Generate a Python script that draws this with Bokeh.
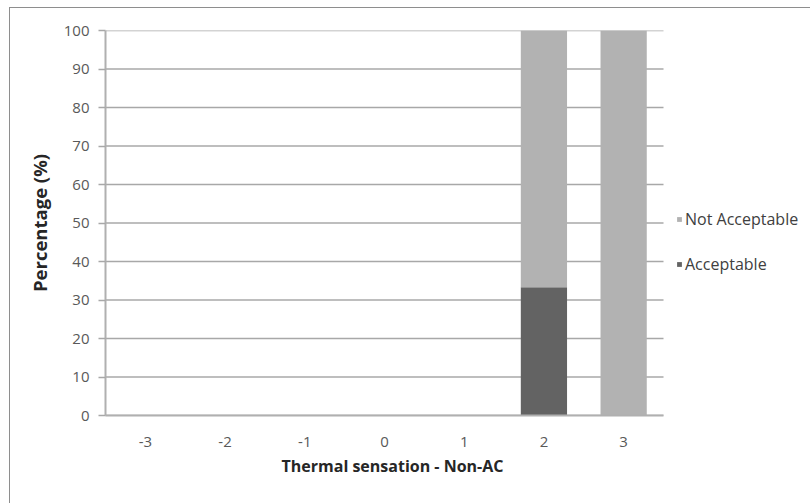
from bokeh.plotting import figure
from bokeh.models import ColumnDataSource, Range1d, Legend, LegendItem, FixedTicker, Title
from bokeh.embed import file_html
from bokeh.resources import INLINE

categories = [-3, -2, -1, 0, 1, 2, 3]
category_labels = ["-3", "-2", "-1", "0", "1", "2", "3"]
acceptable = [0, 0, 0, 0, 0, 33.3, 0]
not_acceptable = [0, 0, 0, 0, 0, 66.7, 100]
y_ticks = [0, 10, 20, 30, 40, 50, 60, 70, 80, 90, 100]

source = ColumnDataSource(data=dict(cat=categories, acc=acceptable, nacc=not_acceptable))

FONT = "Open Sans"

# layout: category area spans 558 px of a 706 px wide frame (legend sits in the rest)
x_lo = categories[0] - 0.5
x_hi = categories[-1] + 0.5
px_per_cat = 558 / (x_hi - x_lo)
x_end = x_lo + 706 / px_per_cat

p = figure(
    width=801, height=496,
    x_range=Range1d(x_lo, x_end),
    y_range=Range1d(0, 100),
    output_backend="svg", toolbar_location=None,
    min_border_left=95, min_border_top=22, min_border_right=0, min_border_bottom=89,
)
p.styles = {"margin-left": "9px", "margin-top": "7px",
            "border-left": "1px solid #8e8e8e", "border-top": "1px solid #8e8e8e"}

# horizontal gridlines limited to the category area
p.segment(x0=[x_lo] * len(y_ticks), x1=[x_hi] * len(y_ticks), y0=y_ticks, y1=y_ticks,
          line_color="#a8a8a8", line_width=1.5)

renderers = p.vbar_stack(["acc", "nacc"], x="cat", width=0.58, source=source,
                         color=["#636363", "#b2b2b2"], line_color=None)

p.outline_line_color = None
p.xgrid.visible = False
p.ygrid.visible = False
p.yaxis.ticker = FixedTicker(ticks=y_ticks)
p.xaxis.ticker = FixedTicker(ticks=categories)
p.xaxis.major_label_overrides = {c: l for c, l in zip(categories, category_labels)}
p.xaxis.bounds = (x_lo, x_hi)

for ax in (p.xaxis[0], p.yaxis[0]):
    ax.axis_line_color = "#b0b0b0"
    ax.axis_line_width = 2
    ax.major_label_text_font = FONT
    ax.major_label_text_font_size = "15px"
    ax.major_label_text_color = "#595959"
    ax.axis_label_text_font = FONT
    ax.axis_label_text_font_style = "bold"
    ax.axis_label_text_color = "#262626"
    ax.minor_tick_line_color = None

p.yaxis.major_tick_line_color = "#a8a8a8"
p.yaxis.major_tick_line_width = 1.5
p.yaxis.major_tick_out = 7
p.yaxis.major_tick_in = 0
p.yaxis.major_label_standoff = 9
p.yaxis.axis_label = "Percentage (%)"
p.yaxis.axis_label_text_font_size = "18.5px"
p.yaxis.axis_label_standoff = 9

p.xaxis.major_tick_line_color = None
p.xaxis.major_label_standoff = 15

# x-axis title placed over the category area
p.add_layout(Title(text="Thermal sensation - Non-AC", align="left", offset=176,
                   text_font=FONT, text_font_size="16px", text_font_style="bold",
                   text_color="#262626", standoff=7), "below")

legend = Legend(
    items=[LegendItem(label="Not Acceptable", renderers=[renderers[1]]),
           LegendItem(label="Acceptable", renderers=[renderers[0]])],
    location=(571, 140),
    glyph_width=6, glyph_height=6, label_standoff=3,
    label_height=20, spacing=23, padding=0, margin=0,
    border_line_color=None, background_fill_alpha=0,
    label_text_font=FONT, label_text_font_size="16px", label_text_color="#404040",
)
p.add_layout(legend)

open("out.html", "w").write(file_html(p, INLINE))
